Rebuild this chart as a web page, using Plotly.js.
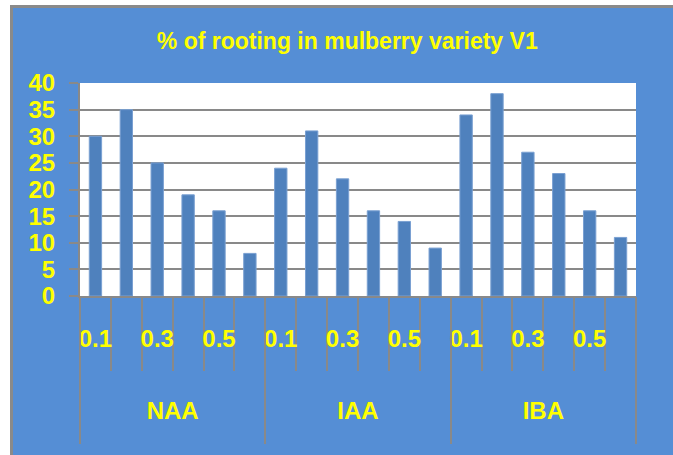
<!DOCTYPE html>
<html>
<head>
<meta charset="utf-8">
<script src="https://cdn.plot.ly/plotly-3.0.1.min.js"></script>
<style>html,body{margin:0;padding:0;background:#fff;}#chart{width:673px;height:455px;}</style>
</head>
<body>
<div id="chart"></div>
<script>
var groups = ['NAA', 'IAA', 'IBA'];
var concentrations = ['0.1', '0.2', '0.3', '0.4', '0.5', '0.6'];
var naaValues = [30, 35, 25, 19, 16, 8];
var iaaValues = [24, 31, 22, 16, 14, 9];
var ibaValues = [34, 38, 27, 23, 16, 11];
var shownLabels = ['0.1', '0.3', '0.5'];
var yTicks = [0, 5, 10, 15, 20, 25, 30, 35, 40];

var seriesByGroup = [naaValues, iaaValues, ibaValues];
var xKeys = [], yVals = [], tickText = [];
groups.forEach(function (g, gi) {
  concentrations.forEach(function (c, ci) {
    xKeys.push(g + ' ' + c);
    yVals.push(seriesByGroup[gi][ci]);
    tickText.push(shownLabels.indexOf(c) >= 0 ? c : '');
  });
});

var yellow = '#FFFF00';
var gray = '#898989';
var blue = '#558ED5';
var tickFont = {family: 'Liberation Sans, Arial, sans-serif', size: 24, color: yellow, weight: 'bold'};

var traces = [
  {
    type: 'bar', x: xKeys, y: yVals,
    marker: {color: '#4F81BD', line: {color: '#7AA0D2', width: 1}},
    hoverinfo: 'skip'
  },
  {
    type: 'scatter', mode: 'markers', x: groups, y: [0, 0, 0], xaxis: 'x2',
    marker: {opacity: 0}, hoverinfo: 'skip', showlegend: false
  }
];

var layout = {
  width: 673, height: 455,
  margin: {l: 80, r: 37, t: 83, b: 159},
  paper_bgcolor: blue,
  plot_bgcolor: '#FFFFFF',
  showlegend: false,
  bargap: 0.6,
  title: {
    text: '% of rooting in mulberry variety V1',
    font: {family: 'Liberation Sans Narrow, Arial Narrow, Liberation Sans, sans-serif', size: 23, color: yellow, weight: 'bold'},
    x: 0.516, xanchor: 'center', xref: 'container',
    y: 1 - 41 / 455, yanchor: 'middle', yref: 'container'
  },
  xaxis: {
    type: 'category',
    categoryorder: 'array', categoryarray: xKeys,
    tickmode: 'array', tickvals: xKeys, ticktext: tickText,
    tickson: 'boundaries',
    ticks: 'outside', ticklen: 73, tickwidth: 2, tickcolor: gray,
    showline: true, linecolor: gray, linewidth: 2,
    showgrid: false, zeroline: false,
    tickfont: tickFont, tickangle: 0,
    ticklabelstandoff: 20,
    fixedrange: true
  },
  xaxis2: {
    type: 'category', overlaying: 'x', anchor: 'y', side: 'bottom',
    categoryorder: 'array', categoryarray: groups,
    range: [-0.5, 2.5],
    tickson: 'boundaries',
    ticks: 'outside', ticklen: 147, tickwidth: 2, tickcolor: gray,
    showline: false, showgrid: false, zeroline: false,
    tickfont: tickFont, tickangle: 0,
    ticklabelstandoff: 98,
    fixedrange: true
  },
  yaxis: {
    range: [0, 40],
    tickmode: 'array', tickvals: yTicks,
    ticks: 'outside', ticklen: 9, tickwidth: 2, tickcolor: gray,
    showline: true, linecolor: gray, linewidth: 2,
    showgrid: true, gridcolor: gray, gridwidth: 2,
    zeroline: false,
    tickfont: tickFont,
    ticklabelstandoff: 9,
    fixedrange: true
  },
  shapes: [
    {type: 'rect', xref: 'paper', yref: 'paper', x0: -0.3, x1: (10 - 80) / 556, y0: -1, y1: 1.6, fillcolor: '#FFFFFF', line: {width: 0}, layer: 'above'},
    {type: 'rect', xref: 'paper', yref: 'paper', x0: -0.3, x1: 1.2, y0: (296 - 5) / 213, y1: 1.6, fillcolor: '#FFFFFF', line: {width: 0}, layer: 'above'},
    {type: 'rect', xref: 'paper', yref: 'paper', x0: (10 - 80) / 556, x1: (13 - 80) / 556, y0: -1, y1: (296 - 5) / 213, fillcolor: '#8A8A8A', line: {width: 0}, layer: 'above'},
    {type: 'rect', xref: 'paper', yref: 'paper', x0: (10 - 80) / 556, x1: 1.2, y0: (296 - 8) / 213, y1: (296 - 5) / 213, fillcolor: '#8A8A8A', line: {width: 0}, layer: 'above'}
  ]
};

Plotly.newPlot('chart', traces, layout, {displayModeBar: false, staticPlot: true});
</script>
</body>
</html>
